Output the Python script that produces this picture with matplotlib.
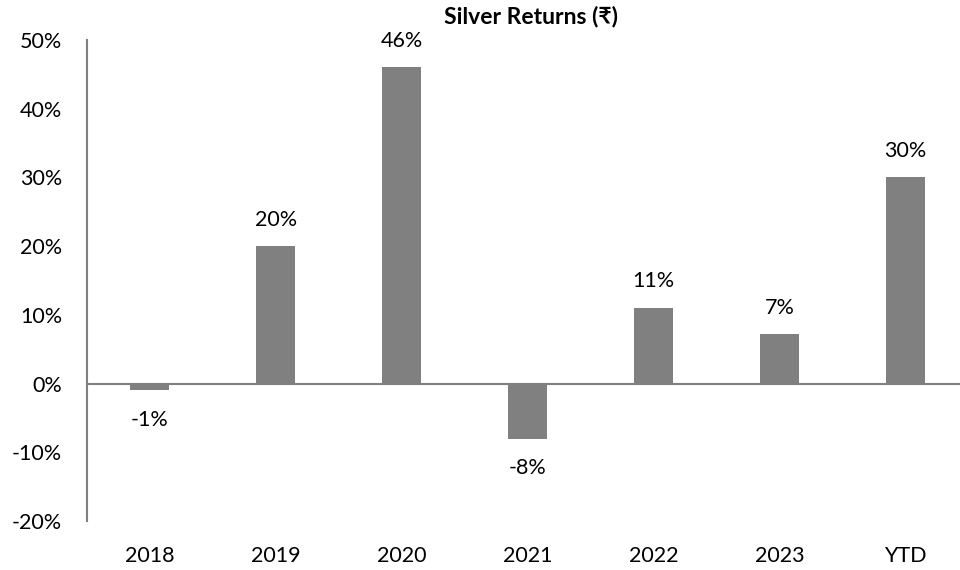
import matplotlib.pyplot as plt

plt.rcParams['font.family'] = ['Lato', 'DejaVu Sans']

years = ['2018', '2019', '2020', '2021', '2022', '2023', 'YTD']
returns = [-1, 20, 46, -8, 11, 7.2, 30]
yticks = [-20, -10, 0, 10, 20, 30, 40, 50]

fig = plt.figure(figsize=(9.6, 5.7), dpi=100)
ax = fig.add_axes([0.0906, 0.086, 0.918, 0.844])

x = range(len(years))
ax.bar(x, returns, width=0.31, color='#808080')

# etiquetas de valor
for i, v in enumerate(returns):
    if v >= 0:
        ax.text(i, v + 2.4, f'{round(v)}%', ha='center', va='bottom', fontsize=15.5)
    else:
        ax.text(i, v - 2.8, f'{round(v)}%', ha='center', va='top', fontsize=15.5)

ax.axhline(0, color='#808080', lw=1.5)
ax.set_xlim(-0.5, 6.5)
ax.set_ylim(-20, 50)
ax.set_yticks(yticks)
ax.set_yticklabels([f'{t}%' for t in yticks], fontsize=15.5)
ax.set_xticks(list(x))
ax.set_xticklabels(years, fontsize=15.5)
ax.tick_params(axis='both', length=0)
ax.tick_params(axis='x', pad=18)
ax.tick_params(axis='y', pad=18)

for s in ['top', 'right', 'bottom']:
    ax.spines[s].set_visible(False)
ax.spines['left'].set_color('#808080')
ax.spines['left'].set_linewidth(1.5)

fig.text(0.553, 0.99, 'Silver Returns (₹)', ha='center', va='top',
         fontsize=16.5, fontweight='bold')

fig.savefig('out.png', dpi=100)
